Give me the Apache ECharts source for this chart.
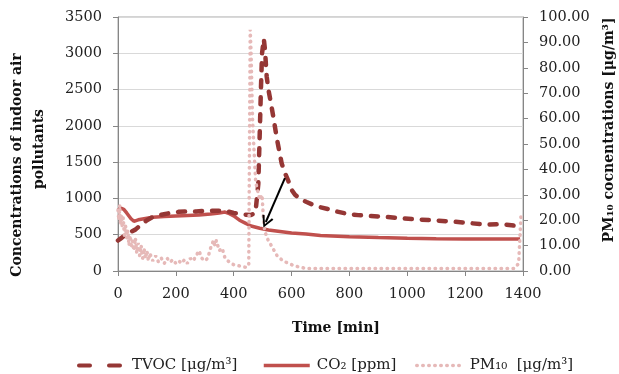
<!DOCTYPE html>
<html>
<head>
<meta charset="utf-8">
<script src="https://cdn.jsdelivr.net/npm/echarts@6/dist/echarts.min.js"></script>
<style>
html,body{margin:0;padding:0;background:#fff;}
#chart{width:619px;height:374px;}
</style>
</head>
<body>
<div id="chart"></div>
<script>
// ---- Data ----
var xTicks = [0, 200, 400, 600, 800, 1000, 1200, 1400];
var leftTicks = [0, 500, 1000, 1500, 2000, 2500, 3000, 3500];
var rightTicks = [0, 10, 20, 30, 40, 50, 60, 70, 80, 90, 100];
var seriesNames = ['TVOC [μg/m³]', 'CO₂ [ppm]', 'PM₁₀  [μg/m³]'];

var tvocTime = [0, 10, 20, 40, 60, 80, 100, 120, 150, 180, 210, 240, 270, 300, 330, 360, 380, 400, 420, 440, 460, 475, 480, 485, 490, 494, 498, 504, 508, 514, 520, 531, 540, 548, 557, 566, 577, 588, 600, 612, 630, 652, 675, 698, 730, 756, 795, 830, 870, 930, 975, 1030, 1100, 1160, 1215, 1275, 1330, 1360, 1385, 1400];
var tvocVals = [420, 450, 480, 530, 570, 640, 700, 745, 775, 800, 815, 820, 820, 828, 830, 830, 820, 800, 790, 775, 772, 800, 820, 1200, 1900, 2500, 3000, 3200, 3050, 2680, 2500, 2260, 2050, 1850, 1660, 1480, 1350, 1250, 1120, 1050, 990, 950, 910, 880, 850, 820, 785, 770, 758, 745, 728, 712, 695, 680, 660, 640, 645, 630, 615, 630];

var co2Time = [0, 10, 20, 30, 45, 55, 70, 90, 120, 160, 200, 240, 280, 320, 350, 370, 385, 400, 420, 440, 460, 490, 520, 560, 600, 650, 700, 800, 900, 1000, 1100, 1200, 1300, 1390];
var co2Vals = [840, 865, 850, 800, 720, 685, 705, 720, 740, 750, 758, 765, 772, 785, 800, 812, 790, 760, 700, 660, 620, 590, 565, 545, 525, 510, 490, 473, 460, 450, 445, 441, 441, 441];

var pmTime = [0, 3, 6, 9, 12, 15, 18, 22, 26, 30, 34, 38, 42, 46, 50, 55, 60, 65, 70, 75, 80, 85, 90, 95, 100, 105, 110, 120, 130, 140, 150, 160, 170, 180, 190, 200, 210, 220, 230, 240, 250, 260, 270, 280, 290, 300, 310, 320, 330, 335, 340, 350, 360, 370, 380, 390, 400, 420, 440, 452, 457, 460, 465, 470, 476, 482, 490, 498, 502, 507, 515, 525, 540, 550, 570, 590, 610, 650, 700, 800, 900, 1000, 1100, 1200, 1300, 1370, 1385, 1393];
var pmVals = [24, 20, 26, 18, 22, 17, 21, 14, 18, 13, 16, 10, 14, 9, 12, 8, 13, 7, 11, 6, 10, 5, 9, 5, 8, 4, 7, 4, 6, 3.5, 5, 3, 5, 3.5, 4.5, 3, 4, 3, 4.5, 3, 5, 4, 6, 8, 5, 4, 5, 9, 12, 10, 12, 8, 9, 5, 4, 3, 2.5, 2, 1.5, 2, 95, 86, 60, 48, 35, 32, 28, 30, 22, 16, 13, 11, 8, 6, 4, 3, 2, 1, 1, 1, 1, 1, 1, 1, 1, 1, 3, 22];

// arrow annotation (data coordinates: time, left-axis value)
var arrowFrom = [577, 1281];
var arrowTo = [511, 675];

function pairs(t, v) { return t.map(function (x, i) { return [x, v[i]]; }); }

var FONT = 'DejaVu Serif';
var TVOC_C = '#953735', CO2_C = '#c0504d', PM_C = '#e6b9b8';

function legendFor(name, left, lineStyle) {
  return {
    left: left, top: 353, itemWidth: 46, itemHeight: 14, itemGap: 0,
    data: [{name: name, lineStyle: lineStyle}],
    itemStyle: {opacity: 0},
    textStyle: {fontFamily: FONT, fontSize: 15, color: '#222', padding: [0, 0, 0, 2]}
  };
}

var chart = echarts.init(document.getElementById('chart'), null, {renderer: 'canvas'});
chart.setOption({
  animation: false,
  backgroundColor: '#ffffff',
  grid: {left: 118, right: 96, top: 17, bottom: 103, show: true, borderColor: '#a6a6a6', borderWidth: 1},
  legend: [
    legendFor(seriesNames[0], 72, {type: [11, 19], cap: 'round', width: 4}),
    legendFor(seriesNames[1], 257, {width: 3.5}),
    legendFor(seriesNames[2], 410, {type: [0.5, 5.5], cap: 'round', width: 3.5})
  ],
  xAxis: {
    type: 'value', min: xTicks[0], max: xTicks[xTicks.length - 1], interval: 200,
    axisLine: {lineStyle: {color: '#868686'}},
    axisTick: {length: 5, lineStyle: {color: '#868686'}},
    splitLine: {show: false},
    axisLabel: {fontFamily: FONT, fontSize: 14.5, color: '#222', margin: 16,
      formatter: function (v) { return String(v); }}
  },
  yAxis: [{
    type: 'value', min: leftTicks[0], max: leftTicks[leftTicks.length - 1], interval: 500,
    axisLine: {show: true, lineStyle: {color: '#868686'}},
    axisTick: {show: true, length: 5, lineStyle: {color: '#868686'}},
    splitLine: {lineStyle: {color: '#d9d9d9'}},
    axisLabel: {fontFamily: FONT, fontSize: 14.5, color: '#222', margin: 16,
      formatter: function (v) { return String(v); }}
  }, {
    type: 'value', position: 'right', min: rightTicks[0], max: rightTicks[rightTicks.length - 1], interval: 10,
    axisLine: {show: true, lineStyle: {color: '#868686'}},
    axisTick: {show: true, length: 5, lineStyle: {color: '#868686'}},
    splitLine: {show: false},
    axisLabel: {fontFamily: FONT, fontSize: 14.5, color: '#222', margin: 16,
      formatter: function (v) { return v.toFixed(2); }}
  }],
  graphic: [
    {type: 'text', x: 336, y: 328, style: {text: 'Time [min]', font: 'bold 14px "DejaVu Serif"', fill: '#111', textAlign: 'center', textVerticalAlign: 'middle', verticalAlign: 'middle'}},
    {type: 'text', x: 17.5, y: 165, rotation: Math.PI / 2, style: {text: 'Concentrations of indoor air', font: 'bold 14px "DejaVu Serif"', fill: '#111', textAlign: 'center', textVerticalAlign: 'middle', verticalAlign: 'middle'}},
    {type: 'text', x: 39, y: 149, rotation: Math.PI / 2, style: {text: 'pollutants', font: 'bold 14px "DejaVu Serif"', fill: '#111', textAlign: 'center', textVerticalAlign: 'middle', verticalAlign: 'middle'}},
    {type: 'text', x: 609, y: 130, rotation: Math.PI / 2, style: {text: 'PM₁₀ cocnentrations [μg/m³]', font: 'bold 14px "DejaVu Serif"', fill: '#111', textAlign: 'center', textVerticalAlign: 'middle', verticalAlign: 'middle'}}
  ],
  series: [{
    name: seriesNames[1], type: 'line', yAxisIndex: 0, symbol: 'none', z: 2,
    data: pairs(co2Time, co2Vals),
    lineStyle: {color: CO2_C, width: 3.5},
    itemStyle: {color: CO2_C}
  }, {
    name: seriesNames[0], type: 'line', yAxisIndex: 0, symbol: 'none', z: 3,
    data: pairs(tvocTime, tvocVals),
    lineStyle: {color: TVOC_C, width: 4.5, type: [7, 10], cap: 'round'},
    itemStyle: {color: TVOC_C},
    markLine: {
      silent: true, animation: false,
      symbol: ['none', 'path://M5,0 L10,11 L8.4,11.8 L5,3.6 L1.6,11.8 L0,11 Z'],
      symbolSize: [12, 12],
      label: {show: false},
      lineStyle: {color: '#000', width: 2, type: 'solid', cap: 'butt'},
      data: [[{coord: arrowFrom}, {coord: arrowTo}]]
    }
  }, {
    name: seriesNames[2], type: 'line', yAxisIndex: 1, symbol: 'none', z: 4,
    data: pairs(pmTime, pmVals),
    lineStyle: {color: PM_C, width: 3.5, type: [0.5, 5.5], cap: 'round'},
    itemStyle: {color: PM_C}
  }]
});
</script>
</body>
</html>
